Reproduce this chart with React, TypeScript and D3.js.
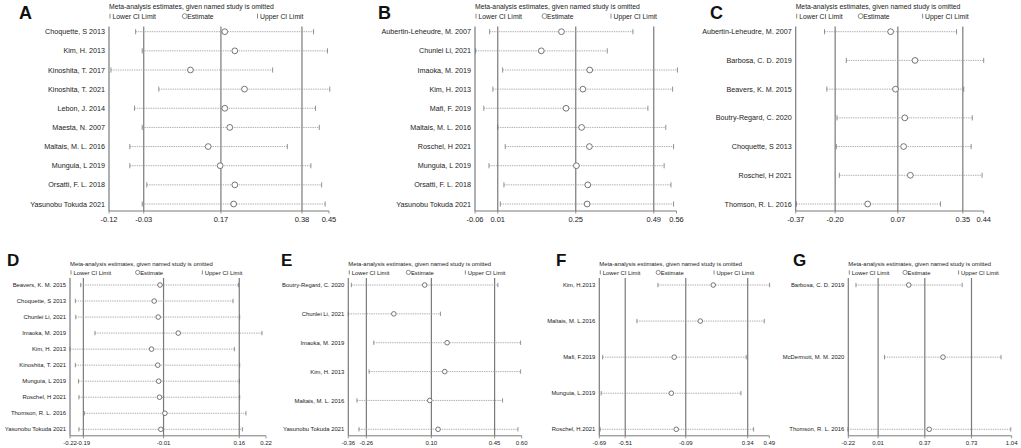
import * as d3 from 'd3'

// Panel A
const aStudies = ['Choquette, S 2013', 'Kim, H. 2013', 'Kinoshita, T. 2017', 'Kinoshita, T. 2021', 'Lebon, J. 2014', 'Maesta, N. 2007', 'Maltais, M. L. 2016', 'Munguia, L 2019', 'Orsatti, F. L. 2018', 'Yasunobu Tokuda 2021']
const aEst = [0.18, 0.206, 0.091, 0.231, 0.18, 0.193, 0.137, 0.168, 0.206, 0.203]
const aLower = [-0.051, -0.034, -0.115, 0.009, -0.054, -0.034, -0.066, -0.066, -0.022, -0.034]
const aUpper = [0.41, 0.446, 0.304, 0.452, 0.415, 0.425, 0.342, 0.403, 0.431, 0.44]
const aTicks = [-0.12, -0.03, 0.17, 0.38, 0.45]
const aRefs = [-0.03, 0.17, 0.38]

// Panel B
const bStudies = ['Aubertin-Leheudre, M. 2007', 'Chunlei Li, 2021', 'Imaoka, M. 2019', 'Kim, H. 2013', 'Mafi, F. 2019', 'Maltais, M. L. 2016', 'Roschel, H 2021', 'Munguia, L 2019', 'Orsatti, F. L. 2018', 'Yasunobu Tokuda 2021']
const bEst = [0.206, 0.144, 0.293, 0.272, 0.22, 0.268, 0.292, 0.252, 0.287, 0.285]
const bLower = [-0.015, -0.058, 0.025, -0.005, -0.033, 0.01, 0.033, -0.017, 0.029, 0.018]
const bUpper = [0.426, 0.347, 0.563, 0.548, 0.472, 0.527, 0.551, 0.522, 0.543, 0.551]
const bTicks = [-0.06, 0.01, 0.25, 0.49, 0.56]
const bRefs = [0.01, 0.25, 0.49]

// Panel C
const cStudies = ['Aubertin-Leheudre, M. 2007', 'Barbosa, C. D. 2019', 'Beavers, K. M. 2015', 'Boutry-Regard, C. 2020', 'Choquette, S 2013', 'Roschel, H 2021', 'Thomson, R. L. 2016']
const cEst = [0.039, 0.144, 0.06, 0.1, 0.095, 0.124, -0.06]
const cLower = [-0.246, -0.152, -0.236, -0.192, -0.195, -0.182, -0.367]
const cUpper = [0.323, 0.44, 0.354, 0.391, 0.386, 0.433, 0.254]
const cTicks = [-0.37, -0.2, 0.07, 0.35, 0.44]
const cRefs = [-0.2, 0.07, 0.35]

// Panel D
const dStudies = ['Beavers, K. M. 2015', 'Choquette, S 2013', 'Chunlei Li, 2021', 'Imaoka, M. 2019', 'Kim, H. 2013', 'Kinoshita, T. 2021', 'Munguia, L 2019', 'Roschel, H 2021', 'Thomson, R. L. 2016', 'Yasunobu Tokuda 2021']
const dEst = [-0.018, -0.031, -0.022, 0.023, -0.037, -0.023, -0.021, -0.019, -0.007, -0.016]
const dLower = [-0.196, -0.208, -0.207, -0.164, -0.22, -0.208, -0.201, -0.2, -0.188, -0.2]
const dUpper = [0.158, 0.146, 0.161, 0.211, 0.149, 0.161, 0.16, 0.161, 0.175, 0.167]
const dTicks = [-0.22, -0.19, -0.01, 0.16, 0.22]
const dRefs = [-0.19, -0.01, 0.16]

// Panel E
const eStudies = ['Boutry-Regard, C. 2020', 'Chunlei Li, 2021', 'Imaoka, M. 2019', 'Kim, H. 2013', 'Maltais, M. L. 2016', 'Yasunobu Tokuda 2021']
const eEst = [0.063, -0.108, 0.187, 0.174, 0.091, 0.137]
const eLower = [-0.343, -0.36, -0.219, -0.245, -0.312, -0.301]
const eUpper = [0.468, 0.15, 0.594, 0.594, 0.494, 0.579]
const eTicks = [-0.36, -0.26, 0.1, 0.45, 0.6]
const eRefs = [-0.26, 0.1, 0.45]

// Panel F
const fStudies = ['Kim, H.2013', 'Maltais, M. L.2016', 'Mafi, F.2019', 'Munguia, L.2019', 'Roschel, H.2021']
const fEst = [0.101, 0.011, -0.17, -0.19, -0.156]
const fLower = [-0.283, -0.429, -0.667, -0.677, -0.684]
const fUpper = [0.492, 0.455, 0.33, 0.293, 0.381]
const fTicks = [-0.69, -0.51, -0.09, 0.34, 0.49]
const fRefs = [-0.51, -0.09, 0.34]

// Panel G
const gStudies = ['Barbosa, C. D. 2019', 'McDermott, M. M. 2020', 'Thomson, R. L. 2016']
const gEst = [0.246, 0.51, 0.404]
const gLower = [-0.161, 0.059, -0.223]
const gUpper = [0.658, 0.958, 1.033]
const gTicks = [-0.22, 0.01, 0.37, 0.73, 1.04]
const gRefs = [0.01, 0.37, 0.73]

const FONT = "'Liberation Sans', Arial, Helvetica, sans-serif"
const TITLE = 'Meta-analysis estimates, given named study is omitted'

interface Layout {
  x0: number
  x1: number
  letterX: number
  top: boolean
}

interface PanelProps {
  letter: string
  studies: string[]
  est: number[]
  lower: number[]
  upper: number[]
  ticks: number[]
  refs: number[]
  layout: Layout
}

function fmt(v: number) {
  return v.toFixed(2)
}

function Panel({ letter, studies, est, lower, upper, ticks, refs, layout }: PanelProps) {
  const { x0, x1, letterX, top } = layout
  const g = top
    ? { row0: 31.7, row1: 204, lineTop: 26.5, axisY: 211, titleY: 8.5, legendY: 18.5, letterY: 18.5, fs: 7.2, fsT: 6.8, fsTick: 7.5, r: 2.9, cap: 2.6, letterFs: 18, tickY: 222 }
    : { row0: 285, row1: 429.3, lineTop: 278, axisY: 435.8, titleY: 266, legendY: 274.5, letterY: 265.5, fs: 5.9, fsT: 5.9, fsTick: 6, r: 2.3, cap: 2.2, letterFs: 17, tickY: 444.5 }

  const x = d3.scaleLinear().domain([ticks[0], ticks[ticks.length - 1]]).range([x0, x1])
  const y = d3.scalePoint<string>().domain(studies).range([g.row0, g.row1])
  const w = x1 - x0

  return (
    <g fontFamily={FONT}>
      <text x={letterX} y={g.letterY} fontSize={g.letterFs} fontWeight="bold" fill="#111">
        {letter}
      </text>
      <text x={x0} y={g.titleY} fontSize={g.fsT} fill="#222">
        {TITLE}
      </text>

      {/* legend */}
      <g fontSize={g.fsT} fill="#222">
        <line x1={x0 + 1} x2={x0 + 1} y1={g.legendY - g.fsT * 0.7} y2={g.legendY} stroke="#555" strokeWidth={0.7} />
        <text x={x0 + 3.5} y={g.legendY}>Lower CI Limit</text>
        <circle cx={x0 + w * 0.335 + 2} cy={g.legendY - g.fsT * 0.35} r={g.fsT * 0.36} fill="none" stroke="#444" strokeWidth={0.6} />
        <text x={x0 + w * 0.335 + 4.5} y={g.legendY}>Estimate</text>
        <line x1={x0 + w * 0.675} x2={x0 + w * 0.675} y1={g.legendY - g.fsT * 0.7} y2={g.legendY} stroke="#555" strokeWidth={0.7} />
        <text x={x0 + w * 0.675 + 2.5} y={g.legendY}>Upper CI Limit</text>
      </g>

      {/* left axis + reference lines */}
      <line x1={x0} x2={x0} y1={g.lineTop} y2={g.axisY} stroke="#7a7a7a" strokeWidth={1.2} />
      {refs.map((v) => (
        <line key={v} x1={x(v)} x2={x(v)} y1={g.lineTop} y2={g.axisY} stroke="#7a7a7a" strokeWidth={1.2} />
      ))}

      {/* bottom axis */}
      <line x1={x0} x2={x1} y1={g.axisY} y2={g.axisY} stroke="#7a7a7a" strokeWidth={1} />
      {ticks.map((v) => (
        <g key={v}>
          <line x1={x(v)} x2={x(v)} y1={g.axisY} y2={g.axisY + 2.5} stroke="#7a7a7a" strokeWidth={0.8} />
          <text x={x(v)} y={g.tickY} fontSize={g.fsTick} textAnchor="middle" fill="#222">
            {fmt(v)}
          </text>
        </g>
      ))}

      {/* studies */}
      {studies.map((s, i) => {
        const yy = y(s) ?? 0
        return (
          <g key={s}>
            <text x={x0 - 4} y={yy} dy="0.35em" fontSize={g.fs} textAnchor="end" fill="#222">
              {s}
            </text>
            <line x1={x(lower[i])} x2={x(upper[i])} y1={yy} y2={yy} stroke="#9a9a9a" strokeWidth={0.8} strokeDasharray="1.4 0.9" />
            <line x1={x(lower[i])} x2={x(lower[i])} y1={yy - g.cap} y2={yy + g.cap} stroke="#666" strokeWidth={0.7} />
            <line x1={x(upper[i])} x2={x(upper[i])} y1={yy - g.cap} y2={yy + g.cap} stroke="#666" strokeWidth={0.7} />
            <circle cx={x(est[i])} cy={yy} r={g.r} fill="#fff" stroke="#555" strokeWidth={0.8} />
          </g>
        )
      })}
    </g>
  )
}

export default function App() {
  document.body.style.margin = '0'
  return (
    <svg width={1021} height={448} style={{ display: 'block', background: '#fff' }}>
      <rect width={1021} height={448} fill="#fff" />
      <Panel letter="A" studies={aStudies} est={aEst} lower={aLower} upper={aUpper} ticks={aTicks} refs={aRefs}
        layout={{ x0: 109, x1: 329, letterX: 19, top: true }} />
      <Panel letter="B" studies={bStudies} est={bEst} lower={bLower} upper={bUpper} ticks={bTicks} refs={bRefs}
        layout={{ x0: 475, x1: 676.5, letterX: 378, top: true }} />
      <Panel letter="C" studies={cStudies} est={cEst} lower={cLower} upper={cUpper} ticks={cTicks} refs={cRefs}
        layout={{ x0: 795.7, x1: 983.7, letterX: 710, top: true }} />
      <Panel letter="D" studies={dStudies} est={dEst} lower={dLower} upper={dUpper} ticks={dTicks} refs={dRefs}
        layout={{ x0: 70, x1: 266, letterX: 7, top: false }} />
      <Panel letter="E" studies={eStudies} est={eEst} lower={eLower} upper={eUpper} ticks={eTicks} refs={eRefs}
        layout={{ x0: 348.3, x1: 521.7, letterX: 281, top: false }} />
      <Panel letter="F" studies={fStudies} est={fEst} lower={fLower} upper={fUpper} ticks={fTicks} refs={fRefs}
        layout={{ x0: 599.3, x1: 769.3, letterX: 556, top: false }} />
      <Panel letter="G" studies={gStudies} est={gEst} lower={gLower} upper={gUpper} ticks={gTicks} refs={gRefs}
        layout={{ x0: 848.3, x1: 1011.7, letterX: 793, top: false }} />
    </svg>
  )
}
